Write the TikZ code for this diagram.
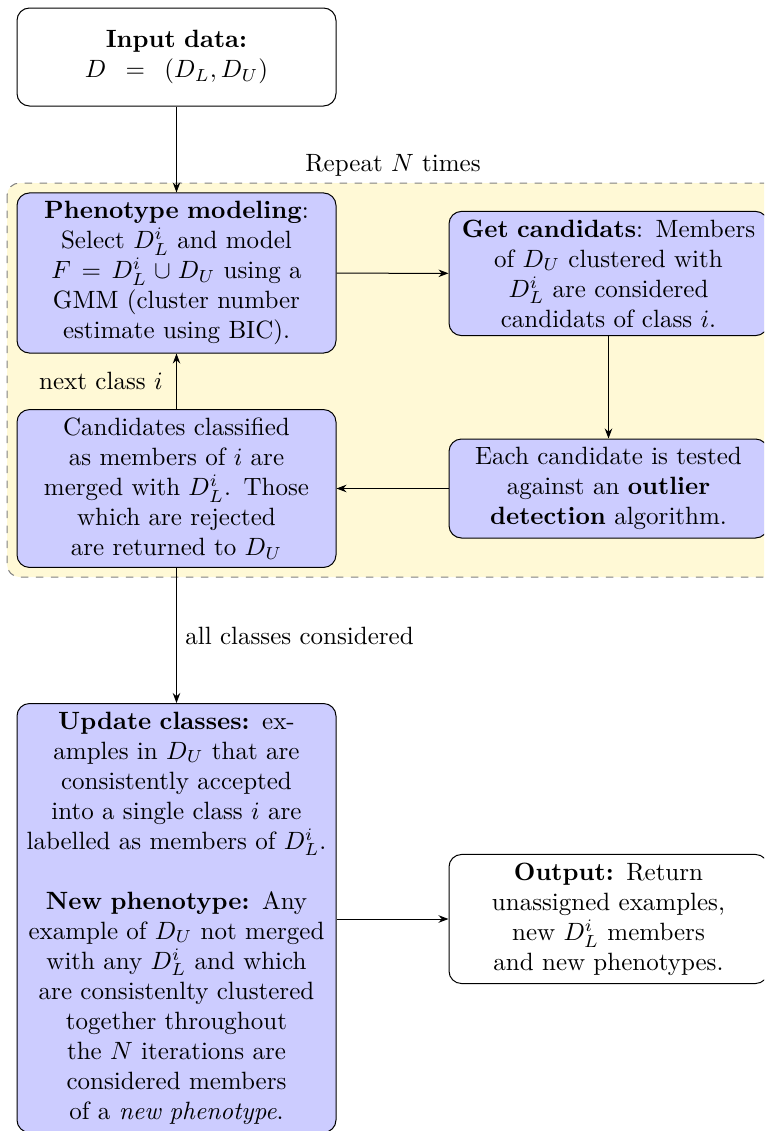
\documentclass[tikz,border=0pt]{standalone}
\usetikzlibrary{arrows.meta,positioning}
\definecolor{boxblue}{rgb}{0.8,0.8,1}
\definecolor{regionyellow}{RGB}{255,249,214}
\tikzset{
  plainbox/.style={draw,rounded corners=5pt,align=center,text width=121pt,inner sep=3.3pt,font=\normalsize},
  bluebox/.style={plainbox,fill=boxblue},
  conn/.style={-{Stealth[length=4pt,width=3pt]},line width=0.4pt},
  region/.style={draw=gray,dashed,fill=regionyellow,rounded corners=5pt},
}
\begin{document}
\begin{tikzpicture}[x=1pt,y=1pt]
\useasboundingbox (0,0) rectangle (305.6,-452.4);
\begin{scope}
\clip (0,0) rectangle (305.6,-452.4);
\path[region] (2.8,-73.2) rectangle (330,-230.8);
\node[plainbox,minimum height=39.2pt] (input) at (70.6,-22.8) {\textbf{Input data:}\\ $D \,=\, (D_L, D_U)$};
\node[bluebox] (pheno) at (70.6,-109.2) {\textbf{Phenotype modeling}:\\ Select $D_L^i$ and model\\ $F = D_L^i \cup D_U$ using a\\ GMM (cluster number\\ estimate using BIC).};
\node[bluebox] (getc) at (243.4,-109.4) {\textbf{Get candidats}: Members\\ of $D_U$ clustered with\\ $D_L^i$ are considered\\ candidats of class $i$.};
\node[bluebox] (each) at (243.4,-195.4) {Each candidate is tested\\ against an \textbf{outlier}\\ \textbf{detection} algorithm.};
\node[bluebox] (cands) at (70.6,-195.4) {Candidates classified\\ as members of $i$ are\\ merged with $D_L^i$. Those\\ which are rejected\\ are returned to $D_U$};
\node[bluebox,anchor=north] (update) at (70.6,-281.2) {\textbf{Update classes:} ex-\\ amples in $D_U$ that are\\ consistently accepted\\ into a single class $i$ are\\ labelled as members of $D_L^i$.\\[12pt] \textbf{New phenotype:} Any\\ example of $D_U$ not merged\\ with any $D_L^i$ and which\\ are consistenlty clustered\\ together throughout\\ the $N$ iterations are\\ considered members\\ of a \emph{new phenotype}.};
\node[plainbox] (output) at (243.4,-367.6) {\textbf{Output:} Return\\ unassigned examples,\\ new $D_L^i$ members\\ and new phenotypes.};
\node (repeat) at (157.2,-66) {Repeat $N$ times};
\draw[conn] (input) -- (pheno);
\draw[conn] (pheno) -- (getc);
\draw[conn] (getc) -- (each);
\draw[conn] (each) -- (cands);
\draw[conn] (cands) -- node[left=2pt] (nextlbl) {next class $i$} (pheno);
\draw[conn] (cands) -- node[right=0pt] (alllbl) {all classes considered} (update);
\draw[conn] (update.east |- output) -- (output);
\end{scope}
\end{tikzpicture}
\end{document}
